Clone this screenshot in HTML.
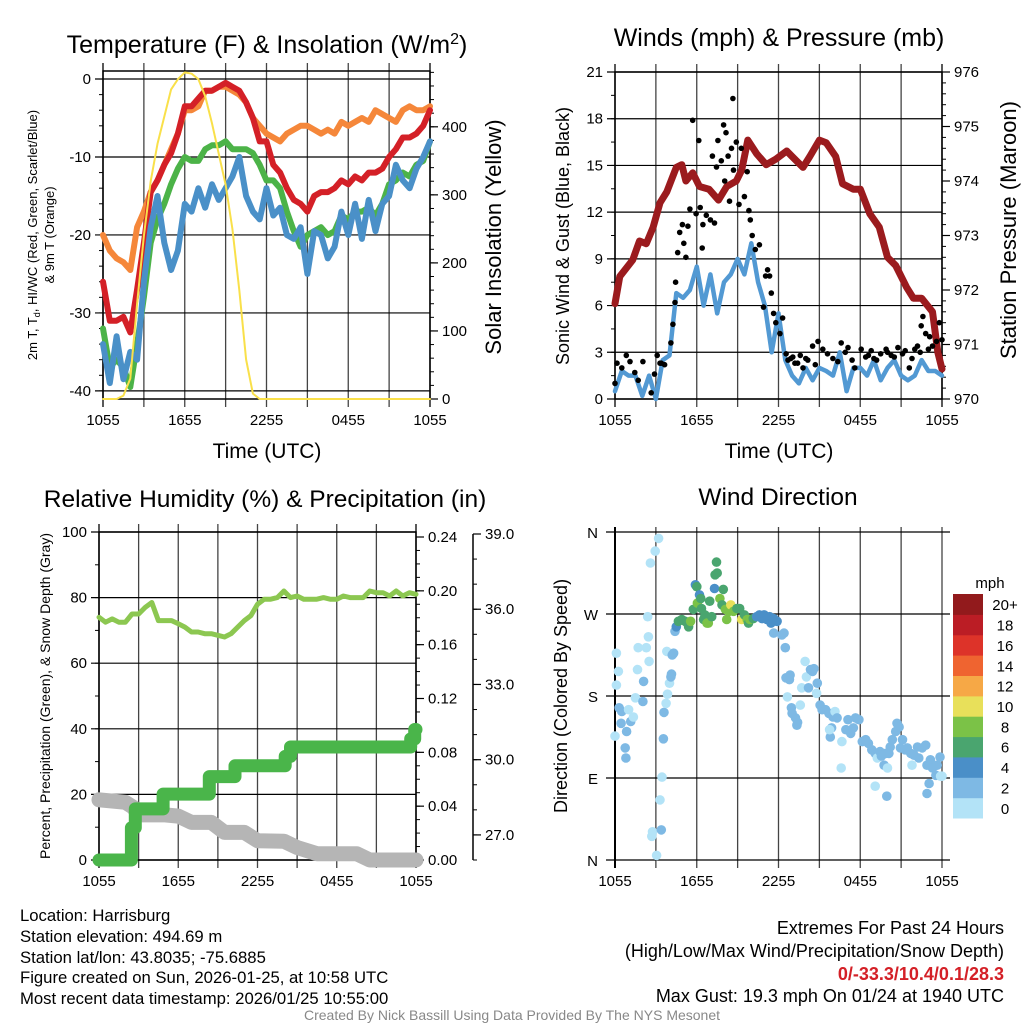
<!DOCTYPE html>
<html><head><meta charset="utf-8"><style>
html,body{margin:0;padding:0;background:#fff;}
svg{display:block;font-family:"Liberation Sans",Arial,sans-serif;}
</style></head><body>
<svg id="fig" width="1024" height="1024" viewBox="0 0 1024 1024">
<rect x="0" y="0" width="1024" height="1024" fill="#fff"/>
<g id="layer"></g>
<!-- titles -->
<text x="267" y="53" font-size="25" text-anchor="middle">Temperature (F) &amp; Insolation (W/m<tspan dy="-9" font-size="16">2</tspan><tspan dy="9">)</tspan></text>
<text x="779" y="46" font-size="25" text-anchor="middle">Winds (mph) &amp; Pressure (mb)</text>
<text x="265" y="507" font-size="24.5" text-anchor="middle">Relative Humidity (%) &amp; Precipitation (in)</text>
<text x="778" y="505" font-size="24.5" text-anchor="middle">Wind Direction</text>
<!-- axis titles -->
<text x="267" y="458" font-size="21" text-anchor="middle">Time (UTC)</text>
<text x="779" y="458" font-size="21" text-anchor="middle">Time (UTC)</text>
<text transform="translate(37,235) rotate(-90)" font-size="13" text-anchor="middle">2m T, T<tspan font-size="9" dy="3">d</tspan><tspan dy="-3">, HI/WC (Red, Green, Scarlet/Blue)</tspan></text>
<text transform="translate(54,235) rotate(-90)" font-size="13" text-anchor="middle">&amp; 9m T (Orange)</text>
<text transform="translate(501,237) rotate(-90)" font-size="22" text-anchor="middle">Solar Insolation (Yellow)</text>
<text transform="translate(569,236) rotate(-90)" font-size="18" text-anchor="middle">Sonic Wind &amp; Gust (Blue, Black)</text>
<text transform="translate(1016,230) rotate(-90)" font-size="22" text-anchor="middle">Station Pressure (Maroon)</text>
<text transform="translate(50,696) rotate(-90)" font-size="14" text-anchor="middle">Percent, Precipitation (Green), &amp; Snow Depth (Gray)</text>
<text transform="translate(567,696) rotate(-90)" font-size="18" text-anchor="middle">Direction (Colored By Speed)</text>
<text x="990" y="588" font-size="15" text-anchor="middle">mph</text>
<!-- info text -->
<g font-size="16.7">
<text x="20" y="921">Location: Harrisburg</text>
<text x="20" y="942">Station elevation: 494.69 m</text>
<text x="20" y="963">Station lat/lon: 43.8035; -75.6885</text>
<text x="20" y="983">Figure created on Sun, 2026-01-25, at 10:58 UTC</text>
<text x="20" y="1004">Most recent data timestamp: 2026/01/25 10:55:00</text>
</g>
<g font-size="18" text-anchor="end">
<text x="1004" y="934">Extremes For Past 24 Hours</text>
<text x="1004" y="957">(High/Low/Max Wind/Precipitation/Snow Depth)</text>
<text x="1004" y="980" fill="#d42027" font-weight="bold">0/-33.3/10.4/0.1/28.3</text>
<text x="1004" y="1002">Max Gust: 19.3 mph On 01/24 at 1940 UTC</text>
</g>
<text x="512" y="1020" font-size="14" fill="#888" text-anchor="middle">Created By Nick Bassill Using Data Provided By The NYS Mesonet</text>
</svg>
<script>
// ---------- data ----------
const hours = [0,0.5,1,1.5,2,2.5,3,3.5,4,4.5,5,5.5,6,6.5,7,7.5,8,8.5,9,9.5,10,10.5,11,11.5,12,12.5,13,13.5,14,14.5,15,15.5,16,16.5,17,17.5,18,18.5,19,19.5,20,20.5,21,21.5,22,22.5,23,23.5,24];
const timeTickLabels = ["1055","","1655","","2255","","0455","","1055"];
const temp9m = [-20,-22,-23,-23.5,-24.5,-19,-17,-14.5,-13,-11,-9,-7,-4,-4,-3.5,-1.5,-1.5,-1,-1,-1.5,-2,-3,-5,-6,-7,-7.5,-8,-7,-6.5,-6,-6,-6.5,-7,-6.5,-7,-5.5,-6,-5.5,-5,-5.5,-4,-4.5,-5,-5.5,-4,-3.5,-4,-4,-3.5];
const temp2m = [-26,-31,-31,-30.5,-32.5,-27,-21,-14.5,-13,-11,-9.5,-7,-3.5,-3.5,-2.5,-1.5,-1.5,-1,-0.5,-1,-1.5,-3,-5,-8,-8,-11,-12,-14,-15.5,-16,-17,-15,-14.5,-14.5,-14,-13,-13.5,-12.5,-13,-12,-12,-11.5,-10,-9,-7.5,-7.5,-7,-6,-4];
const dewpoint = [-32,-37,-36,-37,-39.5,-34,-28,-21,-18,-16,-13.5,-11.5,-10,-10.5,-10.5,-9,-8.5,-8.5,-8,-9,-9,-9,-9.5,-11,-13,-13,-14,-17,-19.5,-21.5,-20,-19.5,-19,-20,-19.5,-17.5,-18,-17,-17,-16.5,-17.5,-16,-13.5,-13,-12,-12.5,-11,-10.5,-8];
const windChill = [-34,-39,-33,-38.5,-35,-36,-26,-19,-15,-21,-24.5,-22,-16,-17,-14,-16.5,-13.5,-15.5,-14,-12.5,-10,-15,-17,-18,-14,-17.5,-16.5,-20,-20.5,-19,-25,-19.5,-20,-23,-21.5,-17,-20,-16,-20.5,-15.5,-19.5,-16,-15,-11,-13,-14,-11.5,-10,-8];
const insolation = [0,0,0,5,30,140,240,320,375,415,455,470,480,478,470,445,405,360,315,250,160,58,8,0,0,0,0,0,0,0,0,0,0,0,0,0,0,0,0,0,0,0,0,0,0,0,0,0,0];
const windSpeed = [0.5,1.8,1.5,1.5,0.2,1.5,0,2.5,2.8,6.8,6.5,7,8.5,6,8,5.5,7.5,8,9,8,10,7.5,6,3,5.5,2.5,1.5,1,2,1.2,2,1.8,1.5,3,0.5,2,2,1.5,2.5,1.2,2,2.5,1.5,1.2,1.5,2.5,1.8,1.8,1.5];
const pressHours = [0,0.35,1.3,1.8,2.3,2.8,3.3,3.8,4.5,4.9,5.2,5.7,6.2,6.9,7.6,8.2,8.9,9.3,9.75,10.4,11.1,11.8,12.6,13,13.8,14.3,15,15.5,16.2,16.7,17.5,18,18.7,19.4,20,20.6,21.4,21.9,22.5,23.3,23.7,24];
const pressure = [971.75,972.25,972.55,972.9,972.85,973.15,973.6,973.8,974.25,974.3,974.0,974.15,973.9,973.85,973.65,973.9,974.0,974.2,974.75,974.5,974.3,974.4,974.55,974.45,974.25,974.45,974.75,974.7,974.45,973.95,973.85,973.85,973.4,973.15,972.6,972.45,972.05,971.85,971.85,971.6,970.85,970.55];
const gustHours = [0,0.15,0.83,1.1,1.45,2.05,2.66,2.9,3.1,3.4,3.64,4.1,4.25,4.4,4.45,4.6,4.75,4.95,5.05,5.2,5.35,5.5,5.7,5.95,6.15,6.25,6.4,6.45,6.7,7,7.15,7.3,7.45,7.55,7.8,7.97,8.05,8.15,8.3,8.4,8.55,8.65,8.7,8.9,9.1,9.27,9.5,9.7,9.83,9.93,10.07,10.3,10.6,10.9,11.05,11.2,11.35,11.47,11.64,11.8,12.1,12.3,12.56,12.7,13.05,13.4,13.8,14.15,14.5,14.9,15.25,15.6,15.99,16.35,16.6,17.1,17.6,18.07,18.4,18.8,19.2,19.5,19.9,20.27,20.76,21.1,21.6,22,22.2,22.47,22.6,22.8,23.1,23.3,23.6,23.8,24,0.5,1.7,3.3,12.9,13.2,13.6,14.0,14.7,16.9,17.4,18.6,19.0,20.0,20.5,21.3,21.8,22.4,23.0];
const gustSpeed = [1.0,2.3,2.8,2.4,1.7,2.4,0.4,1.6,2.8,2.3,2.2,3.6,4.8,6.2,7.5,9.4,10.7,11.2,10,9.1,11.1,12.2,17.9,11.9,16.6,12.3,9.7,11.2,11.8,11.5,15.6,11.3,14.9,16.6,15.3,17.6,14,17.1,15.6,12.7,16.1,19.3,14.7,16.5,12.5,16.1,13,14.6,12.1,11.5,10.5,9.6,9.9,5.9,7.9,8.3,7.9,6.8,5.5,4.9,4.2,5.2,2.9,2.5,2.7,2.3,2.0,2.5,3.4,3.7,3.2,2.9,2.6,2.4,3.6,3.3,2.0,3.2,2.7,3.1,2.5,2.9,3.2,2.8,3.3,2.9,2.0,3.2,3.4,4.7,5.3,4.2,4.0,3.4,3.7,4.9,3.8,2.0,1.2,2.3,2.6,2.3,2.8,2.6,2.2,3.0,2.5,2.8,2.6,3.0,2.7,3.1,2.6,3.0,3.2];
const rh = [74,72.5,73.5,72.5,72.5,75,75,77,78.5,73,73,73,72,71,69.5,69.5,69,69,68.5,68,69,71,73,74.5,78,79.5,79.5,80,82,80,80.5,79.5,79.5,79.5,80,79.5,79.5,80.5,80,80,80,82,81.5,81.5,80.5,82,80.5,81.5,81];
const precipHours = [0,2.45,2.75,4.85,8.35,10.3,14.1,14.5,23.6,23.9,24];
const precip = [0,0.024,0.038,0.049,0.062,0.070,0.077,0.084,0.090,0.097,0.097];
const snowHours = [0,2,2.6,3,5,6,7,8.5,9.5,11,12,14,15,16.5,19.5,20.5,24];
const snowDepth = [28.4,28.3,28.1,27.8,27.8,27.75,27.5,27.5,27.1,27.1,26.77,26.75,26.5,26.25,26.25,26.0,26.0];
const dirHours = [0,0.1,0.25,0.1,0.3,0.5,0.45,0.85,0.75,0.8,1,1.15,1.35,1.5,1.65,1.7,2.05,2.1,2.3,2.4,2.45,2.5,2.6,2.95,3.2,3.05,2.75,2.7,3.4,3.3,3.45,3.55,3.6,3.75,3.85,4,4.1,4.15,3.8,4.2,4.3,4.4,4.5,4.65,4.9,5.15,5.4,5.55,5.75,5.9,6,6.05,6.2,6.3,6.35,6.5,6.6,6.75,6.85,6.95,7.1,7.3,7.35,7.5,7.45,7.7,7.85,7.95,8.1,8.2,8.35,8.5,8.7,8.95,9.15,9.3,9.5,9.7,9.8,9.9,10.15,10.4,10.6,10.8,10.95,11.15,11.35,11.45,11.65,11.9,11.65,12.25,12.4,12.5,12.85,12.8,12.55,12.65,12.95,13,13.25,13.35,13.4,13.6,13.7,13.95,14.05,14.2,14.35,14.5,14.6,14.8,14.85,15.05,15.2,15.45,15.7,16,16.15,16.3,15.8,15.9,15.75,16.65,16.6,16.95,17.1,17.3,17.5,17.65,17.9,18.15,18.4,18.6,18.85,19.1,19.25,19.1,19.45,19.55,19.75,20,19.85,20.1,20.2,20.35,20.6,20.7,20.85,19.95,20.95,21.1,21.3,21.45,21.7,21.8,21.95,22.2,22.3,22.55,22.8,22.9,23.05,22.9,23.15,23.3,23.55,23.65,23.85,23.9,24];
const dirDegrees = [136,227,207,192,167,163,150,141,123,112,165,152,157,178,209,233,174,196,233,267,245,218,326,339,353,5,31,26,33,66,91,133,162,172,182,194,201,204,229,225,227,251,256,262,264,262,256,262,275,302,300,282,291,287,276,264,269,260,260,284,267,298,313,315,327,287,280,297,275,264,273,280,273,276,276,264,269,264,260,264,265,267,269,265,269,264,267,260,265,262,249,247,249,233,203,198,200,179,167,161,156,148,151,170,189,218,201,189,209,207,210,183,194,170,165,165,161,157,163,156,135,145,143,130,101,143,154,139,145,156,154,130,132,128,121,117,112,81,119,114,104,101,117,117,124,132,141,150,146,70,123,132,121,123,117,104,115,124,112,123,126,104,84,73,110,101,93,104,113,92,92];
const dirSpeed = [1,1,1,1,2,2.5,2.5,2.5,2.5,2.5,1.5,2,1.5,1,1,1,2.5,2.5,1.5,1,1,1,1,1,1,1,1,1,2.5,0.5,1,2.5,2.5,1.5,1.5,1.5,2.5,2.5,1,2.5,2.5,3,4,6,6,6.5,6,8,6,4.5,6,8,4.5,6.5,7,6,6.5,8,8.5,6.5,6.5,4.5,6.5,6.5,6.5,8,7,6.5,8.5,8.5,8,10,8,7,6.5,10.5,6.5,8,6.5,8.5,6.5,5,5,4.5,5,5,4.5,5,4.5,4.5,3,3.5,3,2.5,2.5,3,2,1,3,2.5,2.5,3,2,1,1,0.5,1,3,2.5,2,2,0.5,2.5,2.5,2.5,2.5,3,2.5,1.5,2.5,2.5,2.5,1,1.5,0.5,2,3,2.5,2.5,2.5,3,2.5,2.5,2.5,2.5,2,1,0.5,2.5,2.5,2.5,0.5,2.5,2.5,2.5,2.5,3,3.5,3,2.5,2.5,2.5,2.5,2.5,2.5,0.5,2.5,2.5,2.5,2.5,2.5,2.5,2.5,2.5,3,2.5,2.5,2.5,3,1,1];
const dirTickLabels = ["N","E","S","W","N"];
const speedBinLabels = ["0","2","4","6","8","10","12","14","16","18","20+"];
const speedBinColors = ["#b3e3f7","#7eb9e4","#4a8fc8","#4aa56f","#7bc247","#e8e05a","#f6a846","#ef6430","#dd3329","#bb1d25","#921a1c"];

// ---------- helpers ----------
const NS = "http://www.w3.org/2000/svg";
const layer = document.getElementById("layer");
function mk(tag, attrs, name, parent) {
  const el = document.createElementNS(NS, tag);
  for (const k in attrs) el.setAttribute(k, attrs[k]);
  
  
  (parent || layer).appendChild(el);
  return el;
}
function txt(x, y, s, size, anchor, name) {
  const t = mk('text', {x: x, y: y, 'font-size': size, 'text-anchor': anchor}, name);
  t.textContent = s;
  return t;
}
function linScale(d0, d1, r0, r1) { return v => r0 + (v - d0) * (r1 - r0) / (d1 - d0); }
function polyline(xs, ys, sx, sy, color, w, name) {
  let d = "";
  for (let i = 0; i < xs.length; i++) d += (i ? "L" : "M") + sx(xs[i]).toFixed(1) + "," + sy(ys[i]).toFixed(1);
  return mk('path', {d: d, fill: 'none', stroke: color, 'stroke-width': w, 'stroke-linejoin': 'round', 'stroke-linecap': 'round'}, name);
}
function stepline(xs, ys, sx, sy, color, w, name) {
  let d = "";
  for (let i = 0; i < xs.length; i++) {
    if (i === 0) d += "M" + sx(xs[i]).toFixed(1) + "," + sy(ys[i]).toFixed(1);
    else d += "L" + sx(xs[i]).toFixed(1) + "," + sy(ys[i-1]).toFixed(1) + "L" + sx(xs[i]).toFixed(1) + "," + sy(ys[i]).toFixed(1);
  }
  return mk('path', {d: d, fill: 'none', stroke: color, 'stroke-width': w, 'stroke-linejoin': 'round', 'stroke-linecap': 'round'}, name);
}
function line(x1, y1, x2, y2, color, w, name) {
  return mk('line', {x1: x1, y1: y1, x2: x2, y2: y2, stroke: color, 'stroke-width': w}, name);
}
function timeAxis(p, prefix, ext) {
  const sx = linScale(0, 24, p.x0, p.x1);
  for (let i = 0; i <= 8; i++) {
    const x = sx(i * 3);
    line(x, p.y0 - ext, x, p.y1 + 8, (i === 0 || i === 8) ? "#000" : "#444", 1.3, prefix + '-time-gridline');
    if (timeTickLabels[i]) txt(x, p.y1 + 26, timeTickLabels[i], 15, 'middle', prefix + '-time-tick-label');
  }
  return sx;
}
function leftAxis(p, prefix, d0, d1, majors, minorStep, fmt) {
  const sy = linScale(d0, d1, p.y1, p.y0);
  for (let v = Math.ceil(d0 / minorStep) * minorStep; v <= d1 + 1e-9; v += minorStep) {
    line(p.x0 - 4, sy(v), p.x0, sy(v), "#000", 1, prefix + '-left-minor-tick');
  }
  majors.forEach(v => {
    line(p.x0 - 8, sy(v), p.x1, sy(v), "#000", 1.2, prefix + '-left-gridline');
    txt(p.x0 - 12, sy(v) + 5, fmt(v), 15, 'end', prefix + '-left-tick-label');
  });
  return sy;
}
function rightAxis(x, y0, y1, d0, d1, majors, minorStep, fmt, prefix, drawSpine) {
  const sy = linScale(d0, d1, y1, y0);
  if (drawSpine) line(x, y0, x, y1, "#000", 1.5, prefix + '-right-axis-line');
  for (let v = Math.ceil(d0 / minorStep - 1e-9) * minorStep; v <= d1 + 1e-9; v += minorStep) {
    line(x, sy(v), x + 4, sy(v), "#000", 1, prefix + '-right-minor-tick');
  }
  majors.forEach(v => {
    line(x, sy(v), x + 8, sy(v), "#000", 1.2, prefix + '-right-major-tick');
    txt(x + 12, sy(v) + 5, fmt(v), 15, 'start', prefix + '-right-tick-label');
  });
  return sy;
}
function box(p, prefix) {
  mk('rect', {x: p.x0, y: p.y0, width: p.x1 - p.x0, height: p.y1 - p.y0, fill: 'none', stroke: '#000', 'stroke-width': 1.5}, prefix + '-plot-frame');
}

// ---------- Panel 1: temperature ----------
{
  const p = {x0: 103, x1: 430, y0: 71, y1: 399};
  const sx = timeAxis(p, 'p1', 8);
  const sy = leftAxis(p, 'p1', -41.04, 1.03, [0, -10, -20, -30, -40], 2, v => String(v));
  const syR = rightAxis(p.x1, p.y0, p.y1, 0, 482, [0, 100, 200, 300, 400], 20, v => String(v), 'p1', false);
  box(p, 'p1');
  polyline(hours, temp9m, sx, sy, "#f5873a", 6, 'temp-9m-line');
  polyline(hours, temp2m, sx, sy, "#d42027", 6, 'temp-2m-line');
  polyline(hours, dewpoint, sx, sy, "#4cb348", 6, 'dewpoint-line');
  polyline(hours, windChill, sx, sy, "#4a90c8", 6, 'wind-chill-line');
  polyline(hours, insolation, sx, syR, "#f9e04a", 2, 'insolation-line');
}

// ---------- Panel 2: winds & pressure ----------
{
  const p = {x0: 615, x1: 942, y0: 72, y1: 399};
  const sx = timeAxis(p, 'p2', 8);
  const sy = leftAxis(p, 'p2', 0, 21, [0, 3, 6, 9, 12, 15, 18, 21], 1.5, v => String(v));
  const syR = rightAxis(p.x1, p.y0, p.y1, 970, 976, [970, 971, 972, 973, 974, 975, 976], 0.2, v => String(v), 'p2', false);
  box(p, 'p2');
  polyline(pressHours, pressure, sx, syR, "#9b1b1e", 7, 'pressure-line');
  polyline(hours, windSpeed, sx, sy, "#5299d3", 4.5, 'sonic-wind-line');
  for (let i = 0; i < gustHours.length; i++) {
    mk('circle', {cx: sx(gustHours[i]).toFixed(1), cy: sy(gustSpeed[i]).toFixed(1), r: 2.8, fill: '#000'}, 'gust-point');
  }
}

// ---------- Panel 3: humidity / precip / snow ----------
{
  const p = {x0: 99, x1: 416, y0: 532, y1: 860};
  const sx = timeAxis(p, 'p3', 8);
  const sy = leftAxis(p, 'p3', 0, 100, [0, 20, 40, 60, 80, 100], 10, v => String(v));
  const syP = rightAxis(p.x1, 537, p.y1, 0, 0.24, [0, 0.04, 0.08, 0.12, 0.16, 0.20, 0.24], 0.01, v => v.toFixed(2), 'p3', false);
  const syS = rightAxis(473, 534, p.y1, 26, 39, [27, 30, 33, 36, 39], 1, v => v.toFixed(1), 'p3-snow', true);
  box(p, 'p3');
  polyline(snowHours, snowDepth, sx, syS, "#b5b5b5", 15, 'snow-depth-line');
  stepline(precipHours, precip, sx, syP, "#4ab54a", 13, 'precip-line');
  polyline(hours, rh, sx, sy, "#8cc751", 5, 'rh-line');
}

// ---------- Panel 4: wind direction ----------
{
  const p = {x0: 615, x1: 942, y0: 532, y1: 860};
  const sx = linScale(0, 24, p.x0, p.x1);
  const sy = linScale(0, 360, p.y1, p.y0);
  for (let i = 0; i <= 8; i++) {
    const x = sx(i * 3);
    line(x, p.y0 - 5, x, p.y1 + 8, i === 0 ? "#000" : "#444", i === 0 ? 2 : 1.3, 'p4-time-gridline');
    if (timeTickLabels[i]) txt(x, p.y1 + 26, timeTickLabels[i], 15, 'middle', 'p4-time-tick-label');
  }
  dirTickLabels.forEach((lab, i) => {
    const y = sy(i * 90);
    line(606, y, 950, y, "#000", 1.2, 'p4-direction-gridline');
    txt(598, y + 6, lab, 15, 'end', 'p4-direction-tick-label');
  });
  for (let i = 0; i < dirHours.length; i++) {
    const bin = Math.min(10, Math.floor(dirSpeed[i] / 2));
    mk('circle', {cx: sx(dirHours[i]).toFixed(1), cy: sy(dirDegrees[i]).toFixed(1), r: 4.8, fill: speedBinColors[bin]}, 'wind-direction-point');
  }
  const cbTop = 594, cbBot = 818, n = speedBinLabels.length, h = (cbBot - cbTop) / n;
  for (let i = 0; i < n; i++) {
    const y = cbBot - (i + 1) * h;
    mk('rect', {x: 953, y: y.toFixed(1), width: 30, height: (h + 0.5).toFixed(1), fill: speedBinColors[i]}, 'colorbar-bin');
    txt(1005, y + h / 2 + 6, speedBinLabels[i], 15, 'middle', 'colorbar-label');
  }
}
</script>
</body></html>
